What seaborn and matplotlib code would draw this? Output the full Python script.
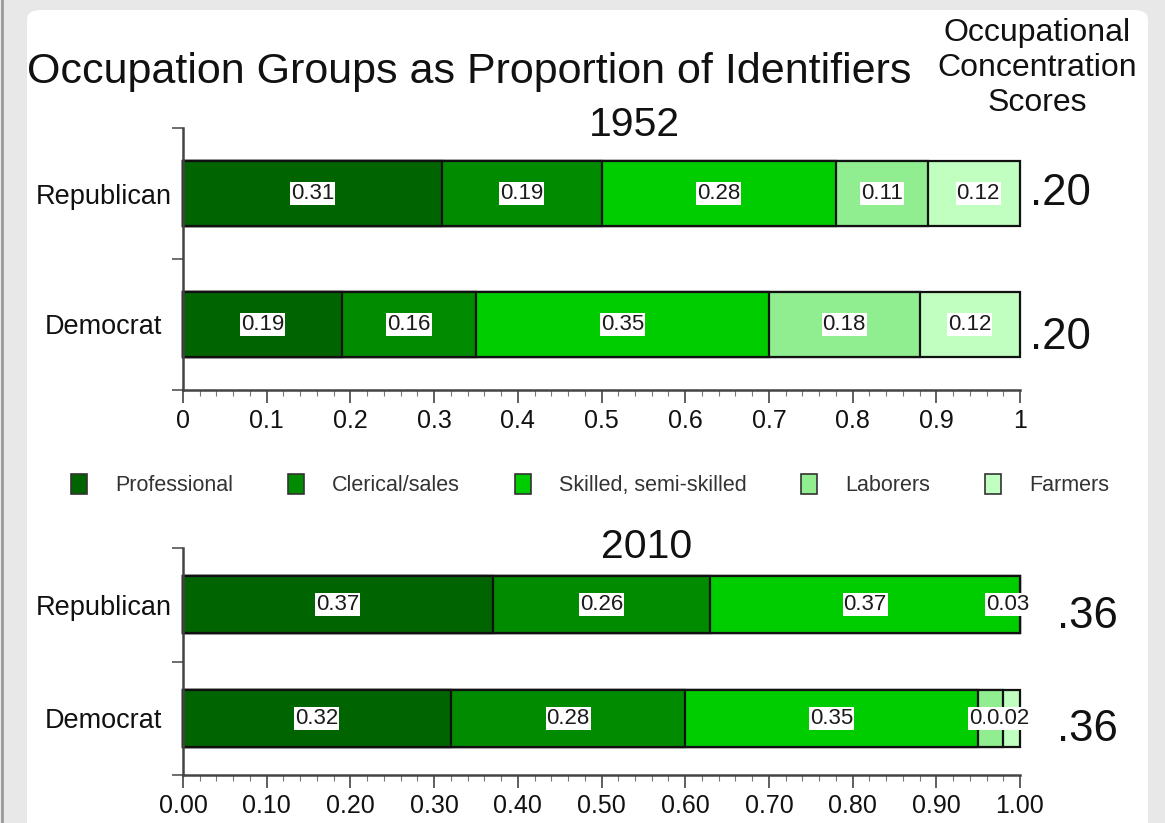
import matplotlib
matplotlib.use("Agg")
import matplotlib.pyplot as plt
import seaborn as sns
import numpy as np
import pandas as pd
from matplotlib.patches import Patch, FancyBboxPatch
from matplotlib.lines import Line2D
from matplotlib.ticker import MultipleLocator, FixedLocator, FormatStrFormatter

# Occupation shares of party identifiers
groups = ["Professional", "Clerical/sales", "Skilled, semi-skilled", "Laborers", "Farmers"]
parties = ["Republican", "Democrat"]
rep_1952 = [0.31, 0.19, 0.28, 0.11, 0.12]
dem_1952 = [0.19, 0.16, 0.35, 0.18, 0.12]
rep_2010 = [0.37, 0.26, 0.37, 0.03, 0.00]
dem_2010 = [0.32, 0.28, 0.35, 0.03, 0.02]
scores_1952 = [".20", ".20"]
scores_2010 = [".36", ".36"]
x_ticks = [0.0, 0.1, 0.2, 0.3, 0.4, 0.5, 0.6, 0.7, 0.8, 0.9, 1.0]

colors = ["#006400", "#008B00", "#00CD00", "#90EE90", "#C1FFC1"]

sns.set_theme(style="white")
plt.rcParams["font.family"] = ["Liberation Sans", "DejaVu Sans"]

W, H = 1165, 823
fig = plt.figure(figsize=(W / 100, H / 100), dpi=100)
fig.patch.set_facecolor("#e8e8e8")
fig.add_artist(FancyBboxPatch((27 / W, -0.05), 1121 / W, 1.05 - 10 / H,
                              boxstyle="round,pad=0,rounding_size=0.012",
                              transform=fig.transFigure, facecolor="white",
                              edgecolor="none", zorder=0))
fig.add_artist(Line2D([1.5 / W, 1.5 / W], [0, 1], transform=fig.transFigure,
                      color="#9a9a9a", lw=2))

ax1 = fig.add_axes([183 / W, 1 - 390 / H, 837 / W, 262 / H])
ax2 = fig.add_axes([183 / W, 1 - 775 / H, 837 / W, 227 / H])


def stacked(ax, rep, dem, scores, score_x, score_dy, fmt):
    df = pd.DataFrame({"party": parties, **{g: [r, d] for g, r, d in zip(groups, rep, dem)}})
    # running totals, capped at the full 100% scale
    cum = df[groups].cumsum(axis=1).clip(upper=1.0)
    # widest cumulative bar first so each segment sits on top of the next
    for g, c in reversed(list(zip(groups, colors))):
        sns.barplot(x=cum[g], y=df["party"], order=parties, orient="h", color=c,
                    width=0.5, edgecolor="#111111", linewidth=1.6, saturation=1, ax=ax)
    for p in ax.patches:
        p.set_clip_on(False)
    for i, vals in enumerate([rep, dem]):
        start = 0.0
        for v in vals:
            if v > 0:
                cx = min(start + v / 2, 0.985)
                ax.text(cx, i, f"{v:.2f}", ha="center", va="center", fontsize=16,
                        color="#1a1a1a", zorder=5,
                        bbox=dict(boxstyle="square,pad=0.04", fc="white", ec="none"))
            start += v
        ax.text(score_x, i + score_dy[i], scores[i], ha="left", va="center",
                fontsize=31.5, color="#111111", clip_on=False)
    ax.set_xlim(0, 1)
    ax.set_ylim(1.5, -0.5)
    ax.set_xlabel("")
    ax.set_ylabel("")
    ax.xaxis.set_major_locator(FixedLocator(x_ticks))
    ax.xaxis.set_major_formatter(FormatStrFormatter(fmt))
    ax.xaxis.set_minor_locator(MultipleLocator(0.02))
    ax.yaxis.set_minor_locator(FixedLocator([-0.5, 0.5, 1.5]))
    ax.tick_params(axis="x", which="major", direction="out", length=9, width=1.2,
                   color="#444444", labelsize=18, labelcolor="#111111", pad=5,
                   bottom=True)
    ax.tick_params(axis="x", which="minor", direction="out", length=4, width=0.8,
                   color="#777777", bottom=True)
    ax.tick_params(axis="y", which="major", length=0, labelsize=19.5,
                   labelcolor="#111111", pad=57)
    ax.tick_params(axis="y", which="minor", direction="out", length=8, width=1.2,
                   color="#555555", left=True)
    for lab in ax.get_yticklabels():
        lab.set_horizontalalignment("center")
    for s in ["top", "right"]:
        ax.spines[s].set_visible(False)
    for s in ["left", "bottom"]:
        ax.spines[s].set_color("#444444")
        ax.spines[s].set_linewidth(1.8)
    ax.set_facecolor("none")


stacked(ax1, rep_1952, dem_1952, scores_1952, 1.012, [0.0, 0.1], "%g")
stacked(ax2, rep_2010, dem_2010, scores_2010, 1.044, [0.1, 0.1], "%.2f")

fig.text(634 / W, 1 - 125 / H, "1952", ha="center", va="center", fontsize=29.5,
         color="#111111")
fig.text(647 / W, 1 - 547 / H, "2010", ha="center", va="center", fontsize=29.5,
         color="#111111")

fig.text(27 / W, 1 - 72 / H, "Occupation Groups as Proportion of Identifiers",
         ha="left", va="center", fontsize=31, color="#111111")
fig.text(1037 / W, 1 - 68 / H, "Occupational\nConcentration\nScores",
         ha="center", va="center", fontsize=23, color="#111111", linespacing=1.22)

handles = [Patch(facecolor=c, edgecolor="#333333", linewidth=1.2, label=g)
           for g, c in zip(groups, colors)]
fig.legend(handles=handles, loc="center", bbox_to_anchor=(590 / W, 1 - 485 / H), ncol=5,
           frameon=False, fontsize=15.5, handlelength=0.75, handleheight=1.1,
           columnspacing=2.55, handletextpad=1.3, labelcolor="#333333")

fig.savefig("out.png", dpi=100, facecolor=fig.get_facecolor())
